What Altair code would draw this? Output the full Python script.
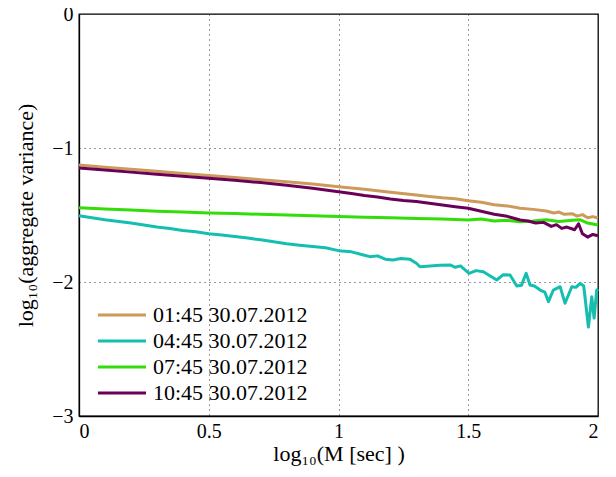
import altair as alt
import pandas as pd

series_names = ["01:45 30.07.2012", "04:45 30.07.2012", "07:45 30.07.2012", "10:45 30.07.2012"]
series_colors = ["#CC9A5A", "#14BFB0", "#33DD0A", "#6A0058"]

x_0145 = [0, 0.1, 0.2, 0.3, 0.4, 0.5, 0.6, 0.7, 0.8, 0.9, 1.0, 1.1, 1.2, 1.3, 1.35, 1.4, 1.45,
          1.5, 1.55, 1.6, 1.65, 1.7, 1.75, 1.8, 1.83, 1.85, 1.87, 1.9, 1.92, 1.94, 1.96, 1.98, 2.0]
y_0145 = [-1.127, -1.143, -1.158, -1.174, -1.190, -1.206, -1.221, -1.236, -1.252, -1.269, -1.289,
          -1.307, -1.330, -1.350, -1.362, -1.372, -1.378, -1.393, -1.405, -1.423, -1.432, -1.450,
          -1.458, -1.470, -1.485, -1.478, -1.495, -1.490, -1.508, -1.497, -1.520, -1.512, -1.522]

x_0445 = [0, 0.1, 0.2, 0.3, 0.35, 0.4, 0.45, 0.5, 0.55, 0.6, 0.65, 0.7, 0.75, 0.8, 0.85, 0.9, 0.95,
          1.0, 1.05, 1.1, 1.121, 1.15, 1.18, 1.21, 1.24, 1.276, 1.30, 1.314, 1.353, 1.39, 1.43,
          1.45, 1.47, 1.503, 1.53, 1.558, 1.58, 1.61, 1.635, 1.661, 1.687, 1.705, 1.723, 1.738,
          1.755, 1.777, 1.795, 1.809, 1.828, 1.854, 1.873, 1.899, 1.915, 1.931, 1.945, 1.963,
          1.976, 1.985, 1.995, 2.0]
y_0445 = [-1.505, -1.535, -1.560, -1.590, -1.600, -1.615, -1.625, -1.640, -1.650, -1.660, -1.672,
          -1.685, -1.700, -1.715, -1.725, -1.735, -1.745, -1.766, -1.775, -1.800, -1.811, -1.805,
          -1.830, -1.836, -1.825, -1.831, -1.860, -1.886, -1.881, -1.875, -1.873, -1.890, -1.880,
          -1.935, -1.915, -1.923, -1.950, -1.985, -1.945, -1.948, -2.030, -2.025, -1.935, -2.022,
          -2.030, -2.060, -2.075, -2.147, -2.060, -2.035, -2.159, -2.035, -2.040, -2.010, -2.030,
          -2.336, -2.110, -2.269, -2.060, -2.070]

x_0745 = [0, 0.1, 0.2, 0.3, 0.4, 0.5, 0.6, 0.7, 0.8, 0.9, 1.0, 1.1, 1.2, 1.3, 1.4, 1.5, 1.55, 1.6,
          1.65, 1.7, 1.75, 1.8, 1.85, 1.9, 1.93, 1.96, 2.0]
y_0745 = [-1.446, -1.455, -1.463, -1.472, -1.478, -1.485, -1.489, -1.495, -1.500, -1.505, -1.512,
          -1.516, -1.520, -1.527, -1.530, -1.537, -1.530, -1.545, -1.540, -1.550, -1.545, -1.535,
          -1.548, -1.540, -1.535, -1.560, -1.575]

x_1045 = [0, 0.1, 0.2, 0.3, 0.4, 0.5, 0.6, 0.7, 0.8, 0.9, 1.0, 1.05, 1.1, 1.15, 1.2, 1.25, 1.3,
          1.35, 1.4, 1.45, 1.5, 1.55, 1.6, 1.65, 1.7, 1.73, 1.76, 1.79, 1.82, 1.84, 1.86, 1.88,
          1.91, 1.925, 1.94, 1.96, 1.98, 2.0]
y_1045 = [-1.149, -1.164, -1.180, -1.195, -1.211, -1.226, -1.241, -1.258, -1.278, -1.300, -1.326,
          -1.340, -1.355, -1.365, -1.380, -1.392, -1.400, -1.413, -1.425, -1.438, -1.450, -1.472,
          -1.495, -1.510, -1.537, -1.545, -1.560, -1.555, -1.585, -1.572, -1.600, -1.590, -1.610,
          -1.565, -1.640, -1.665, -1.645, -1.655]

x_ticks = [0, 0.5, 1, 1.5, 2]
y_ticks = [-3, -2, -1, 0]

rows = []
for name, xs, ys in zip(series_names, [x_0145, x_0445, x_0745, x_1045], [y_0145, y_0445, y_0745, y_1045]):
    for i, (a, b) in enumerate(zip(xs, ys)):
        rows.append({"series": name, "x": a, "y": b, "order": i})
df = pd.DataFrame(rows)

FONT = "'Liberation Serif', 'Times New Roman', 'DejaVu Serif', serif"

chart = alt.Chart(df).mark_line(strokeWidth=3, strokeJoin="round").encode(
    x=alt.X("x:Q",
            scale=alt.Scale(domain=[0, 2], nice=False, zero=False),
            axis=alt.Axis(values=x_ticks, format="~g", title="log₁₀(M [sec] )",
                          labelPadding=5, titlePadding=2)),
    y=alt.Y("y:Q",
            scale=alt.Scale(domain=[-3, 0], nice=False, zero=False),
            axis=alt.Axis(values=y_ticks, format="d", title="log₁₀(aggregate variance)",
                          labelPadding=6, titlePadding=14)),
    color=alt.Color("series:N",
                    scale=alt.Scale(domain=series_names, range=series_colors),
                    legend=alt.Legend(title=None, orient="none", legendX=32, legendY=290,
                                      symbolType="M-3,0H3", symbolSize=256, symbolStrokeWidth=3,
                                      symbolFillColor="transparent",
                                      labelFont=FONT, labelFontSize=22, labelColor="black",
                                      labelOffset=20, rowPadding=4, padding=0,
                                      labelLimit=300)),
    order="order:Q",
).properties(
    width=519, height=402, autosize="none",
    padding={"left": 71, "top": 6, "right": 10, "bottom": 50},
).configure_view(
    stroke="black", strokeWidth=1.3
).configure_axis(
    domainColor="black", domainWidth=1.3,
    labelFont=FONT, titleFont=FONT, labelFontSize=20, titleFontSize=22,
    titleFontWeight="normal", labelColor="black", titleColor="black",
    grid=True, gridDash=[1, 4], gridColor="#333", gridOpacity=1, gridWidth=1,
    ticks=False,
)

chart.save("out.html", embed_options={"renderer": "svg", "actions": False})
